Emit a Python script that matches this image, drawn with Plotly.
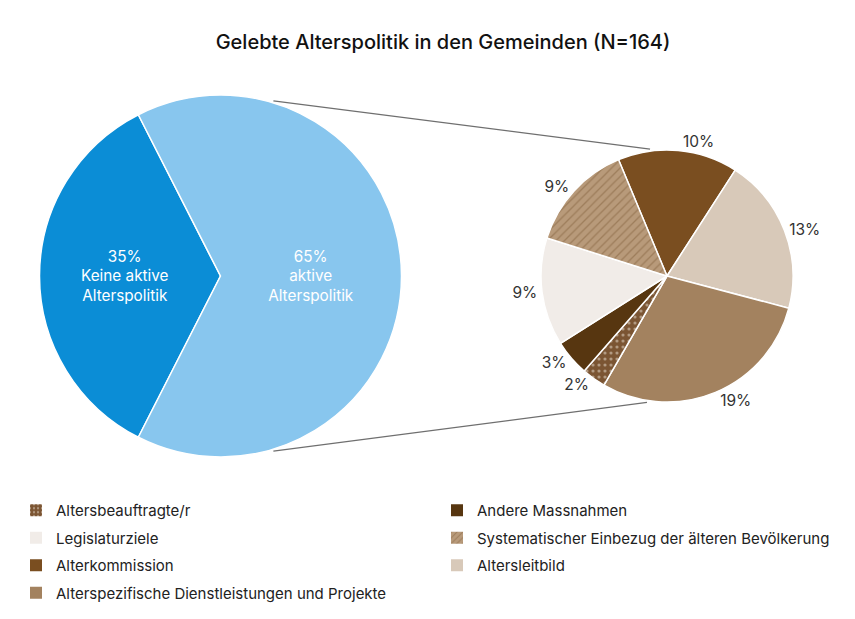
import math
import plotly.graph_objects as go

# ---------------- data ----------------
title_text = "Gelebte Alterspolitik in den Gemeinden (N=164)"

main_labels = ["Keine aktive Alterspolitik", "aktive Alterspolitik"]
main_values = [35, 65]
main_text = ["Keine aktive<br>Alterspolitik", "aktive<br>Alterspolitik"]

sub_labels = [
    "Alterkommission",
    "Altersleitbild",
    "Alterspezifische Dienstleistungen und Projekte",
    "Altersbeauftragte/r",
    "Andere Massnahmen",
    "Legislaturziele",
    "Systematischer Einbezug der älteren Bevölkerung",
]
sub_values = [10, 13, 19, 2, 3, 9, 9]

legend_left = ["Altersbeauftragte/r", "Legislaturziele", "Alterkommission",
               "Alterspezifische Dienstleistungen und Projekte"]
legend_right = ["Andere Massnahmen", "Systematischer Einbezug der älteren Bevölkerung",
                "Altersleitbild"]

# ---------------- styles ----------------
main_colors = ["#0b8dd6", "#88c6ee"]
sub_style = {
    "Alterkommission": ("#7a4e20", "", "#7a4e20"),
    "Altersleitbild": ("#d8c9b9", "", "#d8c9b9"),
    "Alterspezifische Dienstleistungen und Projekte": ("#a3825f", "", "#a3825f"),
    "Altersbeauftragte/r": ("#7b5533", ".", "#eadfd2"),
    "Andere Massnahmen": ("#573610", "", "#573610"),
    "Legislaturziele": ("#f1ece8", "", "#f1ece8"),
    "Systematischer Einbezug der älteren Bevölkerung": ("#b89a7a", "/", "#82603c"),
}

W, H = 855, 619
OFF = 8  # page body margin
FONT = "Inter, Liberation Sans, Arial, sans-serif"

# pie geometry in screen pixels
LCX, LCY, LR = 220.5, 276, 181
RCX, RCY, RR = 667, 276, 126


def px_x(x):
    return (x - OFF) / W


def px_y(y):
    return 1 - (y - OFF) / H


def dom(cx, cy, r):
    return dict(x=[px_x(cx - r), px_x(cx + r)], y=[px_y(cy + r), px_y(cy - r)])


fig = go.Figure()

fig.add_trace(go.Pie(
    labels=main_labels, values=main_values, text=main_text,
    texttemplate="%{value}%<br>%{text}", textposition="inside",
    insidetextorientation="horizontal",
    textfont=dict(color="white", size=15.3, family=FONT),
    marker=dict(colors=main_colors, line=dict(color="white", width=1.5)),
    sort=False, direction="clockwise", rotation=207,
    domain=dom(LCX, LCY, LR), showlegend=False, hoverinfo="label+value",
))

fig.add_trace(go.Pie(
    labels=sub_labels, values=sub_values,
    texttemplate="%{value}%", textposition="outside",
    textfont=dict(color="#333333", size=15.5, family=FONT),
    marker=dict(
        colors=[sub_style[l][0] for l in sub_labels],
        line=dict(color="white", width=1.5),
        pattern=dict(
            shape=[sub_style[l][1] for l in sub_labels],
            fgcolor=[sub_style[l][2] for l in sub_labels],
            fillmode="overlay", size=6, solidity=0.22,
        ),
    ),
    sort=False, direction="clockwise", rotation=-22.6,
    domain=dom(RCX, RCY, RR), showlegend=False, hoverinfo="label+value",
))

# legend entries (dummy bars so that the icons can carry patterns)
for i, lab in enumerate(legend_left + legend_right):
    col, shp, fg = sub_style[lab]
    fig.add_trace(go.Bar(
        x=[None], y=[None], name=lab, legendgroup="g%d" % i,
        legend="legend" if lab in legend_left else "legend2",
        marker=dict(color=col, line=dict(width=0),
                    pattern=dict(shape=shp, fgcolor=fg, fillmode="overlay",
                                 size=5, solidity=0.25)),
    ))


# connector lines between the two pies
def pt(cx, cy, r, ang):
    a = math.radians(ang)
    return px_x(cx + r * math.sin(a)), px_y(cy - r * math.cos(a))


shapes = []
for la, ra in [(16.8, -7.6), (163.2, 189.0)]:
    x0, y0 = pt(LCX, LCY, LR + 2, la)
    x1, y1 = pt(RCX, RCY, RR + 2, ra)
    shapes.append(dict(type="line", xref="paper", yref="paper", x0=x0, y0=y0, x1=x1, y1=y1,
                       line=dict(color="#6f6f6f", width=1.2)))

legend_common = dict(orientation="v", yanchor="top", xanchor="left",
                     font=dict(size=15, color="#222222", family=FONT),
                     tracegroupgap=5, bgcolor="rgba(0,0,0,0)", itemclick=False)

fig.update_layout(
    width=W, height=H,
    margin=dict(l=0, r=0, t=0, b=0),
    paper_bgcolor="white", plot_bgcolor="white",
    font=dict(family=FONT, color="#222222"),
    title=dict(text=title_text, x=px_x(443), xanchor="center", y=px_y(42), yanchor="middle",
               font=dict(size=20, color="#111111", family=FONT, weight=500)),
    xaxis=dict(visible=False), yaxis=dict(visible=False),
    shapes=shapes,
    legend=dict(x=px_x(16), y=px_y(494), **legend_common),
    legend2=dict(x=px_x(437), y=px_y(494), **legend_common),
)

fig.write_html("out.html")
